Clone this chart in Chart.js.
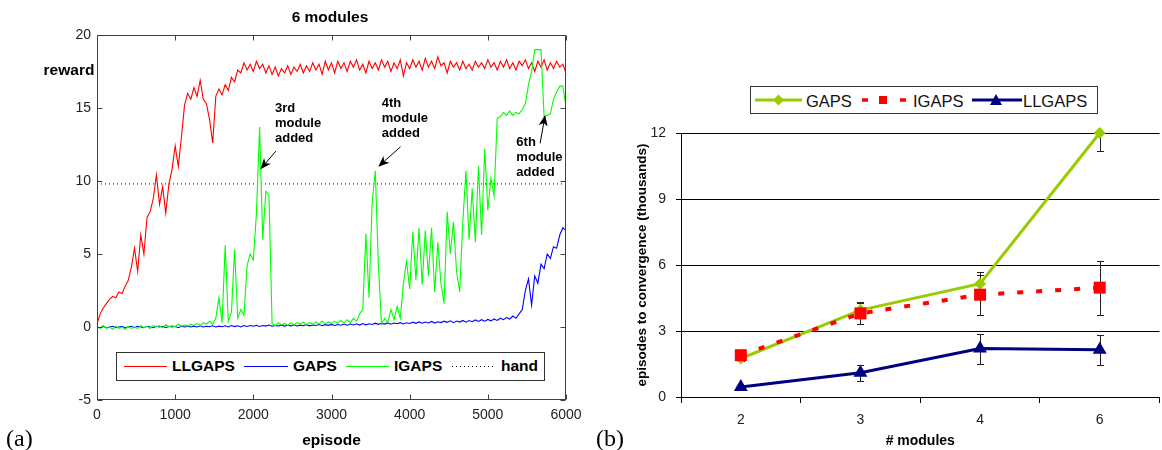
<!DOCTYPE html>
<html><head><meta charset="utf-8">
<script src="https://cdn.jsdelivr.net/npm/chart.js@4.4.0/dist/chart.umd.min.js"></script>
<style>
html,body{margin:0;padding:0;width:1162px;height:450px;overflow:hidden;background:#fff;}
#wrapA{position:absolute;left:0;top:0;width:590px;height:450px;}
#wrapB{position:absolute;left:590px;top:0;width:578px;height:450px;}
canvas{display:block}
.t{position:absolute;font-family:'Liberation Sans',Arial,sans-serif;color:#000;white-space:nowrap;line-height:1;}
.b{font-weight:bold}
.c{transform:translate(-50%,-50%)}
.serif{position:absolute;font-family:'Liberation Serif','Times New Roman',serif;font-size:24px;line-height:24px;color:#000;}
#legA{position:absolute;left:116px;top:352px;width:429px;height:29px;box-sizing:border-box;border:1px solid #333;background:#fff;}
#legB{position:absolute;left:750px;top:86px;width:348px;height:28px;box-sizing:border-box;border:1px solid #333;background:#fff;}
.li{position:absolute;transform:translateY(-50%);}
svg{position:absolute;overflow:visible}
</style>
</head>
<body>
<div id="wrapA"><canvas id="chartA" width="590" height="450"></canvas></div>
<div id="wrapB"><canvas id="chartB" width="578" height="450"></canvas></div>

<div class="t b c" style="left:330px;top:17px;font-size:15.5px;">6 modules</div>
<div class="t b c" style="left:69px;top:70px;font-size:15.5px;">reward</div>

<div id="legA">
  <svg style="left:7px;top:13px" width="43" height="2"><line x1="0" y1="0.5" x2="43" y2="0.5" stroke="#ff0000" stroke-width="1"/></svg>
  <div class="t b li" style="left:55px;top:13px;font-size:15.5px;">LLGAPS</div>
  <svg style="left:127px;top:13px" width="44" height="2"><line x1="0" y1="0.5" x2="44" y2="0.5" stroke="#0000ff" stroke-width="1"/></svg>
  <div class="t b li" style="left:176px;top:13px;font-size:15.5px;">GAPS</div>
  <svg style="left:229px;top:13px" width="43" height="2"><line x1="0" y1="0.5" x2="43" y2="0.5" stroke="#00ff00" stroke-width="1"/></svg>
  <div class="t b li" style="left:277px;top:13px;font-size:15.5px;">IGAPS</div>
  <svg style="left:335px;top:13px" width="43" height="2"><line x1="0" y1="0.5" x2="43" y2="0.5" stroke="#000" stroke-width="1" stroke-dasharray="1,3"/></svg>
  <div class="t b li" style="left:384px;top:13px;font-size:15.5px;">hand</div>
</div>

<div id="legB">
  <svg style="left:4px;top:13px" width="47" height="2"><line x1="0" y1="0" x2="47" y2="0" stroke="#99cc00" stroke-width="3"/><polygon points="23.5,-5.5 29,0 23.5,5.5 18,0" fill="#99cc00"/></svg>
  <div class="t li" style="left:55px;top:13.5px;font-size:16.5px;color:#111;">GAPS</div>
  <svg style="left:107px;top:13px" width="52" height="2"><line x1="4" y1="0" x2="10" y2="0" stroke="#ff0000" stroke-width="3.5"/><rect x="21" y="-4" width="8" height="8" fill="#ff0000"/><line x1="42" y1="0" x2="48" y2="0" stroke="#ff0000" stroke-width="3.5"/></svg>
  <div class="t li" style="left:162px;top:13.5px;font-size:16.5px;color:#111;">IGAPS</div>
  <svg style="left:221px;top:13px" width="50" height="2"><line x1="0" y1="0" x2="50" y2="0" stroke="#000080" stroke-width="3"/><polygon points="24,-6 30,5 18,5" fill="#000080"/></svg>
  <div class="t li" style="left:272px;top:13.5px;font-size:16.5px;color:#111;">LLGAPS</div>
</div>

<div class="serif" style="left:6px;top:426px;">(a)</div>
<div class="serif" style="left:596px;top:426px;">(b)</div>

<script>
// ---------- Panel (a): reward vs episode, one value every 40 episodes ----------
const episodeStep = 40;
const episodeMin = 0;
const episodeMax = 6000;
const handReward = 9.8;

const llgapsReward = [
  0.2, 0.9, 1.3, 1.6, 1.9, 2.1, 2.0, 2.4, 2.3, 2.8,
  3.2, 4.1, 5.4, 3.8, 6.3, 5.0, 7.5, 7.9, 8.8, 10.4,
  8.4, 9.6, 7.8, 9.8, 10.8, 12.4, 11.0, 13.0, 15.2, 16.0,
  15.6, 16.4, 15.8, 16.9, 15.6, 15.3, 14.2, 12.6, 15.8, 16.3,
  15.9, 16.6, 16.2, 17.1, 16.8, 17.6, 17.4, 18.1, 17.6, 18.0,
  17.5, 18.2, 17.7, 18.0, 17.4, 17.9, 17.3, 17.8, 17.2, 17.7,
  17.4, 17.9, 17.3, 17.8, 17.5, 18.0, 17.4, 17.9, 17.5, 18.1,
  17.6, 18.0, 17.3, 18.2, 17.6, 18.1, 17.4, 18.2, 17.7, 18.1,
  17.5, 18.2, 17.8, 18.3, 17.6, 18.0, 17.4, 18.2, 17.7, 18.1,
  17.6, 18.3, 17.8, 18.2, 17.5, 18.1, 17.7, 18.3, 17.2, 18.1,
  17.7, 18.3, 17.8, 18.2, 17.6, 18.4, 17.8, 18.2, 17.7, 18.5,
  17.9, 18.1, 17.4, 18.2, 17.8, 18.1, 17.6, 18.2, 17.7, 18.0,
  17.6, 18.2, 17.8, 18.1, 17.7, 18.3, 17.8, 18.1, 17.6, 18.2,
  17.8, 18.3, 17.7, 18.1, 17.6, 18.2, 17.9, 18.3, 17.7, 18.1,
  17.5, 18.2, 17.8, 18.3, 17.6, 18.1, 17.7, 18.2, 17.8, 18.0,
  17.4
];

const gapsReward = [
  0.0, -0.05, 0.05, -0.05, 0.0, 0.05, -0.05, 0.0, 0.05, -0.05,
  0.0, 0.05, -0.05, 0.05, 0.0, -0.05, 0.05, 0.0, -0.05, 0.05,
  0.0, 0.05, -0.05, 0.05, 0.0, 0.05, -0.05, 0.05, 0.0, 0.05,
  0.0, 0.05, 0.0, 0.08, 0.0, 0.05, 0.02, 0.08, 0.0, 0.06,
  0.02, 0.08, 0.0, 0.1, 0.03, 0.08, 0.0, 0.1, 0.04, 0.1,
  0.05, 0.12, 0.04, 0.1, 0.06, 0.13, 0.05, 0.1, 0.07, 0.14,
  0.06, 0.12, 0.08, 0.15, 0.07, 0.13, 0.09, 0.16, 0.08, 0.14,
  0.1, 0.17, 0.09, 0.16, 0.11, 0.18, 0.1, 0.17, 0.12, 0.2,
  0.12, 0.2, 0.14, 0.22, 0.13, 0.24, 0.15, 0.22, 0.17, 0.26,
  0.18, 0.25, 0.2, 0.28, 0.19, 0.27, 0.22, 0.3, 0.21, 0.29,
  0.24, 0.33, 0.25, 0.35, 0.26, 0.34, 0.28, 0.38, 0.27, 0.36,
  0.3, 0.4, 0.32, 0.42, 0.3, 0.41, 0.34, 0.45, 0.33, 0.44,
  0.36, 0.48, 0.38, 0.5, 0.4, 0.52, 0.42, 0.55, 0.45, 0.6,
  0.5, 0.65, 0.55, 0.75, 0.6, 0.9, 1.2, 2.5, 3.3, 1.5,
  3.5, 3.0, 4.3, 4.0, 5.0, 4.7, 5.5, 5.4, 6.3, 6.8,
  6.6
];

const igapsReward = [
  0.0, -0.1, 0.1, -0.1, 0.0, -0.15, 0.05, -0.1, 0.0, -0.15,
  0.05, -0.1, 0.0, -0.1, 0.1, -0.05, 0.05, -0.1, 0.1, 0.0,
  0.1, -0.05, 0.15, 0.0, 0.1, 0.0, 0.2, 0.05, 0.15, 0.05,
  0.2, 0.1, 0.25, 0.1, 0.3, 0.2, 0.4, 0.2, 0.6, 2.0,
  0.3, 5.6, 0.4, 1.0, 5.3, 0.6, 1.2, 0.8, 4.2, 5.0,
  4.6, 7.8, 13.7, 6.0, 9.3, 9.0, 0.2, 0.1, 0.3, 0.15,
  0.25, 0.1, 0.3, 0.15, 0.3, 0.2, 0.35, 0.15, 0.3, 0.2,
  0.35, 0.2, 0.4, 0.2, 0.35, 0.25, 0.4, 0.25, 0.45, 0.3,
  0.5, 0.3, 0.6, 0.4, 0.9, 1.2, 6.4, 2.0, 8.5, 10.7,
  4.2, 0.2, 0.6, 0.3, 1.2, 0.5, 1.4, 0.6, 3.0, 4.5,
  2.6, 6.5, 3.2, 6.8, 2.9, 6.6, 3.5, 6.8, 2.4, 5.8,
  3.0, 1.6, 7.9, 5.0, 7.2, 3.8, 2.4, 7.2, 10.7, 6.0,
  9.5, 5.8, 11.0, 6.3, 12.2, 8.0, 10.2, 9.0, 14.3, 14.4,
  14.7, 14.5, 14.8, 14.5, 14.7, 14.6, 14.9, 15.3, 16.6, 17.5,
  19.0, 19.0, 19.0, 14.4, 14.5, 14.6, 15.6, 16.1, 16.5, 16.5,
  15.1
];

// annotations: text anchor (episode, reward) and arrow tail -> tip in data units
const notes = [
  {lines: ['3rd', 'module', 'added'], ep: 2277, rew: 15.0, tail: [2289, 12.05], tip: [2090, 10.8]},
  {lines: ['4th', 'module', 'added'], ep: 3643, rew: 15.32, tail: [3884, 12.35], tip: [3598, 10.98]},
  {lines: ['6th', 'module', 'added'], ep: 5365, rew: 12.65, tail: [5669, 12.58], tip: [5733, 14.52]}
];

// ---------- Panel (b): episodes to convergence (thousands) ----------
const moduleCounts = ['2', '3', '4', '6'];
const gapsEpisodes = [1.75, 3.95, 5.15, 12.0];
const gapsError = [0.1, 0.35, 0.55, 0.8];
const igapsEpisodes = [1.9, 3.8, 4.65, 4.97];
const igapsError = [0.1, 0.47, 0.9, 1.22];
const llgapsEpisodes = [0.45, 1.1, 2.2, 2.15];
const llgapsError = [0.1, 0.35, 0.68, 0.69];

const FONT = "'Liberation Sans', Arial, sans-serif";
Chart.defaults.font.family = FONT;
Chart.defaults.color = '#222';

const toPoints = arr => arr.map((v, i) => ({x: episodeMin + i * episodeStep, y: v}));

const frameTicks = {
  id: 'frameTicks',
  afterDatasetsDraw(chart) {
    const {ctx, chartArea: a, scales: {x, y}} = chart;
    ctx.save();
    ctx.strokeStyle = '#404040';
    ctx.lineWidth = 1;
    const L = Math.round(a.left) + 0.5, R = Math.round(a.right) - 0.5;
    const T = Math.round(a.top) + 0.5, B = Math.round(a.bottom) - 0.5;
    ctx.strokeRect(L, T, R - L, B - T);
    const len = 5;
    ctx.beginPath();
    x.ticks.forEach(t => {
      const px = Math.round(x.getPixelForValue(t.value)) + 0.5;
      ctx.moveTo(px, B); ctx.lineTo(px, B - len);
      ctx.moveTo(px, T); ctx.lineTo(px, T + len);
    });
    y.ticks.forEach(t => {
      const py = Math.round(y.getPixelForValue(t.value)) + 0.5;
      ctx.moveTo(L, py); ctx.lineTo(L + len, py);
      ctx.moveTo(R, py); ctx.lineTo(R - len, py);
    });
    ctx.stroke();
    ctx.restore();
  }
};

const annotations = {
  id: 'annotations',
  afterDatasetsDraw(chart) {
    const {ctx, scales: {x, y}} = chart;
    ctx.save();
    ctx.fillStyle = '#000';
    ctx.strokeStyle = '#000';
    ctx.font = 'bold 13px ' + FONT;
    ctx.textAlign = 'left';
    ctx.textBaseline = 'middle';
    notes.forEach(n => {
      const px = x.getPixelForValue(n.ep), py = y.getPixelForValue(n.rew);
      n.lines.forEach((s, k) => ctx.fillText(s, px, py + k * 15));
      const tx = x.getPixelForValue(n.tail[0]), ty = y.getPixelForValue(n.tail[1]);
      const hx = x.getPixelForValue(n.tip[0]), hy = y.getPixelForValue(n.tip[1]);
      const ang = Math.atan2(hy - ty, hx - tx);
      const hl = 11, hw = 4.5, notch = 3;
      const ux = Math.cos(ang), uy = Math.sin(ang);
      const bx = hx - ux * hl, by = hy - uy * hl;
      ctx.lineWidth = 1;
      ctx.beginPath();
      ctx.moveTo(tx, ty);
      ctx.lineTo(bx + ux * notch, by + uy * notch);
      ctx.stroke();
      ctx.beginPath();
      ctx.moveTo(hx, hy);
      ctx.lineTo(bx - uy * hw, by + ux * hw);
      ctx.lineTo(bx + ux * notch, by + uy * notch);
      ctx.lineTo(bx + uy * hw, by - ux * hw);
      ctx.closePath();
      ctx.fill();
    });
    ctx.restore();
  }
};

new Chart(document.getElementById('chartA'), {
  type: 'line',
  data: {
    datasets: [
      {label: 'IGAPS', data: toPoints(igapsReward), borderColor: '#00ff00', borderWidth: 1.1, pointRadius: 0, order: 0},
      {label: 'LLGAPS', data: toPoints(llgapsReward), borderColor: '#ff0000', borderWidth: 1.1, pointRadius: 0, order: 1},
      {label: 'GAPS', data: toPoints(gapsReward), borderColor: '#0000ff', borderWidth: 1.1, pointRadius: 0, order: 2},
      {label: 'hand', data: [{x: episodeMin, y: handReward}, {x: episodeMax, y: handReward}], borderColor: '#000', borderWidth: 1, borderDash: [1, 3], pointRadius: 0, order: 3}
    ]
  },
  options: {
    responsive: false,
    devicePixelRatio: 1,
    animation: false,
    layout: {padding: {top: 35, right: 24, left: 0, bottom: 0}},
    plugins: {legend: {display: false}, tooltip: {enabled: false}, title: {display: false}},
    scales: {
      x: {
        type: 'linear', min: episodeMin, max: episodeMax,
        grid: {display: false, drawTicks: false},
        border: {display: false},
        ticks: {stepSize: 1000, padding: 7, font: {size: 14}, color: '#222', callback: v => String(v), maxRotation: 0},
        title: {display: true, text: 'episode', font: {size: 15.5, weight: 'bold'}, color: '#000', padding: {top: 9, bottom: 0}},
        afterFit(s) { s.height = 50; s.paddingLeft = 0; s.paddingRight = 0; }
      },
      y: {
        min: -5, max: 20,
        grid: {display: false, drawTicks: false},
        border: {display: false},
        ticks: {stepSize: 5, padding: 6, font: {size: 14}, color: '#222'},
        afterFit(s) { s.width = 97; s.paddingTop = 0; s.paddingBottom = 0; }
      }
    }
  },
  plugins: [frameTicks, annotations]
});

const errorBars = {
  id: 'errorBars',
  beforeDatasetsDraw(chart) {
    const {ctx, chartArea: a, scales: {x, y}} = chart;
    ctx.save();
    ctx.beginPath();
    ctx.rect(a.left, a.top, a.right - a.left, a.bottom - a.top);
    ctx.clip();
    ctx.strokeStyle = '#222';
    ctx.lineWidth = 1;
    chart.data.datasets.forEach(ds => {
      if (!ds.errors) return;
      ds.data.forEach((v, i) => {
        const px = Math.round(x.getPixelForValue(i)) + 0.5;
        const hi = Math.round(y.getPixelForValue(v + ds.errors[i])) + 0.5;
        const lo = Math.round(y.getPixelForValue(v - ds.errors[i])) + 0.5;
        ctx.beginPath();
        ctx.moveTo(px, hi); ctx.lineTo(px, lo);
        ctx.moveTo(px - 3.5, hi); ctx.lineTo(px + 3.5, hi);
        ctx.moveTo(px - 3.5, lo); ctx.lineTo(px + 3.5, lo);
        ctx.stroke();
      });
    });
    ctx.restore();
  }
};

new Chart(document.getElementById('chartB'), {
  type: 'line',
  data: {
    labels: moduleCounts,
    datasets: [
      {label: 'IGAPS', data: igapsEpisodes, errors: igapsError, borderColor: '#ff0000', backgroundColor: '#ff0000', borderWidth: 4, borderDash: [6, 13],
        pointStyle: 'rect', pointRadius: 8.5, pointBorderWidth: 0, order: 0, clip: false},
      {label: 'GAPS', data: gapsEpisodes, errors: gapsError, borderColor: '#99cc00', backgroundColor: '#99cc00', borderWidth: 3,
        pointStyle: 'rectRot', pointRadius: 6, pointBorderWidth: 0, order: 1, clip: false},
      {label: 'LLGAPS', data: llgapsEpisodes, errors: llgapsError, borderColor: '#000080', backgroundColor: '#000080', borderWidth: 3,
        pointStyle: 'triangle', pointRadius: 8, pointBorderWidth: 0, order: 2, clip: false}
    ]
  },
  options: {
    responsive: false,
    devicePixelRatio: 1,
    animation: false,
    layout: {padding: {top: 133, right: 0, left: 0, bottom: 0}},
    plugins: {legend: {display: false}, tooltip: {enabled: false}, title: {display: false}},
    scales: {
      x: {
        type: 'category', offset: true,
        grid: {offset: true, drawOnChartArea: false, drawTicks: true, tickLength: 6, color: '#000'},
        border: {display: true, color: '#000'},
        ticks: {padding: 9, font: {size: 14}, color: '#222', maxRotation: 0},
        title: {display: true, text: '# modules', font: {size: 14, weight: 'bold'}, color: '#000', padding: {top: 11.6, bottom: 0}},
        afterFit(s) { s.height = 53; s.paddingLeft = 0; s.paddingRight = 0; }
      },
      y: {
        min: 0, max: 12,
        grid: {color: '#000', lineWidth: 1, tickLength: 5},
        border: {display: true, color: '#000'},
        ticks: {stepSize: 3, padding: 10, font: {size: 14}, color: '#222'},
        title: {display: true, text: 'episodes to convergence (thousands)', font: {size: 13.5, weight: 'bold'}, color: '#000', padding: {top: 44, bottom: 0}},
        afterFit(s) { s.width = 91; s.paddingTop = 0; s.paddingBottom = 0; }
      }
    }
  },
  plugins: [errorBars]
});
</script>
</body></html>
